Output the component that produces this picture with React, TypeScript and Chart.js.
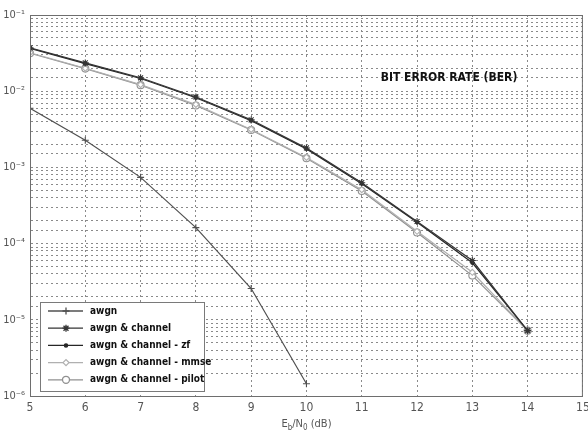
import React, { useEffect, useRef } from "react";
import { Chart, registerables } from "chart.js";
import { drawPoint } from "chart.js/helpers";

Chart.register(...registerables);

const ebn0 = [5, 6, 7, 8, 9, 10, 11, 12, 13, 14];
const awgnX = [5, 6, 7, 8, 9, 10];
const awgn = [5.97e-3, 2.27e-3, 7.4e-4, 1.62e-4, 2.57e-5, 1.45e-6];
const awgnChannel = [3.7e-2, 2.35e-2, 1.5e-2, 8.4e-3, 4.2e-3, 1.8e-3, 6.3e-4, 1.95e-4, 6.0e-5, 7.2e-6];
const awgnChannelZf = [3.65e-2, 2.3e-2, 1.47e-2, 8.2e-3, 4.1e-3, 1.75e-3, 6.1e-4, 1.9e-4, 5.6e-5, 7.2e-6];
const awgnChannelMmse = [3.2e-2, 2.0e-2, 1.22e-2, 6.7e-3, 3.15e-3, 1.35e-3, 5.1e-4, 1.45e-4, 4.2e-5, 7.2e-6];
const awgnChannelPilot = [3.15e-2, 1.98e-2, 1.2e-2, 6.5e-3, 3.1e-3, 1.32e-3, 4.9e-4, 1.4e-4, 3.8e-5, 7.2e-6];
const seriesNames = [
  "awgn",
  "awgn & channel",
  "awgn & channel - zf",
  "awgn & channel - mmse",
  "awgn & channel - pilot",
];
const yTickLabels: Record<number, string> = {
  [-1]: "10⁻¹",
  [-2]: "10⁻²",
  [-3]: "10⁻³",
  [-4]: "10⁻⁴",
  [-5]: "10⁻⁵",
  [-6]: "10⁻⁶",
};
const titleText = "BIT ERROR RATE (BER)";

const colors = ["#505050", "#353535", "#262626", "#b0b0b0", "#909090"];
const styles = ["cross", "star", "circle", "rectRot", "circle"];
const radii = [3.5, 3.5, 1.6, 3, 3.5];
const filled = [false, false, true, false, false];

const FONT = "'DejaVu Sans Condensed', 'DejaVu Sans', sans-serif";

const overlayPlugin = {
  id: "overlay",
  afterDraw(chart: any) {
    const { ctx, chartArea } = chart;
    const { left, top, right, bottom } = chartArea;
    ctx.save();
    ctx.strokeStyle = "#6e6e6e";
    ctx.lineWidth = 1;
    ctx.setLineDash([]);
    ctx.strokeRect(left + 0.5, top + 0.5, right - left - 1, bottom - top);

    ctx.fillStyle = "#111";
    ctx.font = `bold 12px ${FONT}`;
    ctx.textAlign = "center";
    ctx.textBaseline = "middle";
    ctx.fillText(titleText, 449, 78);

    ctx.fillStyle = "#555";
    ctx.textBaseline = "alphabetic";
    ctx.textAlign = "left";
    const parts: [string, boolean][] = [["E", false], ["b", true], ["/N", false], ["0", true], [" (dB)", false]];
    let total = 0;
    for (const [t, sub] of parts) {
      ctx.font = sub ? `8px ${FONT}` : `11px ${FONT}`;
      total += ctx.measureText(t).width;
    }
    let x = (left + right) / 2 - total / 2;
    const by = 427;
    for (const [t, sub] of parts) {
      ctx.font = sub ? `8px ${FONT}` : `11px ${FONT}`;
      ctx.fillText(t, x, sub ? by + 3 : by);
      x += ctx.measureText(t).width;
    }

    const bx = left + 10;
    const bw = 164;
    const bh = 89;
    const byTop = bottom - 94;
    ctx.fillStyle = "#ffffff";
    ctx.fillRect(bx, byTop, bw, bh);
    ctx.strokeStyle = "#7a7a7a";
    ctx.strokeRect(bx + 0.5, byTop + 0.5, bw, bh);
    chart.data.datasets.forEach((ds: any, i: number) => {
      const yy = byTop + 9 + i * 17.2;
      ctx.strokeStyle = ds.borderColor;
      ctx.lineWidth = 1.3;
      ctx.beginPath();
      ctx.moveTo(bx + 8, yy);
      ctx.lineTo(bx + 43, yy);
      ctx.stroke();
      ctx.fillStyle = filled[i] ? ds.borderColor : "#ffffff";
      drawPoint(ctx, { pointStyle: styles[i], radius: radii[i], rotation: 0, borderWidth: 1.2 }, bx + 26, yy);
      ctx.fillStyle = "#111";
      ctx.font = `bold 10px ${FONT}`;
      ctx.textAlign = "left";
      ctx.textBaseline = "middle";
      ctx.fillText(ds.label, bx + 50, yy);
    });
    ctx.restore();
  },
};

export default function App() {
  const ref = useRef<HTMLCanvasElement | null>(null);
  useEffect(() => {
    if (!ref.current) return;
    const allY = [awgn, awgnChannel, awgnChannelZf, awgnChannelMmse, awgnChannelPilot];
    const datasets = allY.map((vals, i) => {
      const xs = i === 0 ? awgnX : ebn0;
      return {
        label: seriesNames[i],
        data: vals.map((v, j) => ({ x: xs[j], y: v })),
        borderColor: colors[i],
        backgroundColor: filled[i] ? colors[i] : "#ffffff",
        borderWidth: 1.2,
        pointStyle: styles[i],
        pointRadius: radii[i],
        pointBorderWidth: 1.1,
        pointBorderColor: colors[i],
        tension: 0,
      };
    });
    const chart = new Chart(ref.current, {
      type: "line",
      data: { datasets },
      plugins: [overlayPlugin],
      options: {
        animation: false,
        responsive: false,
        layout: { padding: { top: 15, right: 4, left: 0, bottom: 0 } },
        plugins: { legend: { display: false }, tooltip: { enabled: false } },
        scales: {
          x: {
            type: "linear",
            min: 5,
            max: 15,
            ticks: { stepSize: 1, color: "#555", font: { size: 12, family: FONT }, padding: 5 },
            grid: { color: "#8a8a8a", lineWidth: 1, drawTicks: false },
            border: { display: true, color: "#6e6e6e", dash: [2, 3] },
            afterFit: (s: any) => {
              s.height = 41;
              s.paddingLeft = 0;
              s.paddingRight = 0;
            },
          },
          y: {
            type: "logarithmic",
            min: 1e-6,
            max: 1e-1,
            ticks: {
              color: "#555",
              font: { size: 11, family: FONT },
              padding: 5,
              autoSkip: false,
              callback: (v: any) => {
                const l = Math.log10(Number(v));
                const r = Math.round(l);
                if (Math.abs(l - r) < 1e-6 && yTickLabels[r]) return yTickLabels[r];
                return "";
              },
            },
            grid: { color: "#8a8a8a", lineWidth: 1, drawTicks: false },
            border: { display: true, color: "#6e6e6e", dash: [2, 3] },
            afterFit: (s: any) => {
              s.width = 30;
              s.paddingTop = 0;
              s.paddingBottom = 0;
            },
          },
        },
      } as any,
    });
    return () => chart.destroy();
  }, []);
  return (
    <div style={{ position: "fixed", left: 0, top: 0, width: 588, height: 437, background: "#fff" }}>
      <canvas ref={ref} width={588} height={437} style={{ width: 588, height: 437 }} />
    </div>
  );
}
